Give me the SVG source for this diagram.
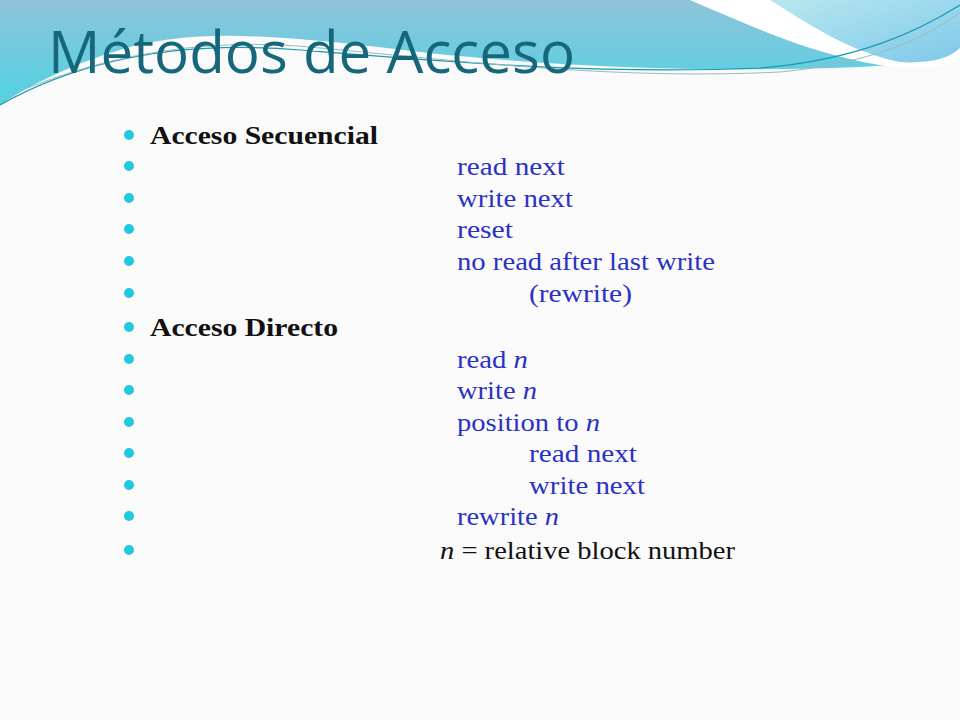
<svg xmlns="http://www.w3.org/2000/svg" width="960" height="720" viewBox="0 0 960 720">
<defs>
<linearGradient id="gl" x1="0" y1="0" x2="0" y2="1"><stop offset="0" stop-color="#8fc3da"/><stop offset="1" stop-color="#4fd3e3"/></linearGradient>
<linearGradient id="gr" x1="0" y1="0" x2="1" y2="1"><stop offset="0" stop-color="#b8e8ee"/><stop offset="1" stop-color="#7fc8ea"/></linearGradient>
<style>
.b{fill:#22c8dc}
.t{font-family:"Liberation Serif","DejaVu Serif",serif;font-size:25px}
.t text{lengthAdjust:spacingAndGlyphs}
.h{font-weight:bold;fill:#111}
.i{fill:#2a32c4}
</style>
</defs>
<rect width="960" height="720" fill="#fafafa"/>
<path d="M0,0 H960 V60 C800,75 600,72 420,52 C300,38 200,25 120,50 C70,65 30,85 0,105 Z" fill="url(#gl)"/>
<path d="M690,0 C760,30 820,58 900,68 C930,70 950,66 960,60 V0 Z" fill="#fff"/>
<path d="M770,0 C810,25 850,52 900,62 C930,64 950,58 960,48 V0 Z" fill="url(#gr)"/>
<path d="M0,105 C80,60 180,40 300,50 C450,62 600,75 760,68 C860,60 920,30 960,5" fill="none" stroke="#1a9ab0" stroke-width="1.2"/>
<path d="M0,100 C90,58 200,35 320,48 C470,62 620,80 780,72 C880,62 930,35 960,12" fill="none" stroke="#9bb" stroke-width="1"/>
<text x="48" y="73" font-family="Open Sans, 'Liberation Sans', sans-serif" font-size="58" fill="#17677c" textLength="527" lengthAdjust="spacingAndGlyphs">Métodos de Acceso</text>
<g id="bullets">
<circle class="b" cx="129" cy="135" r="5"/><circle class="b" cx="129" cy="166" r="5"/><circle class="b" cx="129" cy="198" r="5"/><circle class="b" cx="129" cy="229" r="5"/><circle class="b" cx="129" cy="261" r="5"/><circle class="b" cx="129" cy="293" r="5"/><circle class="b" cx="129" cy="327" r="5"/><circle class="b" cx="129" cy="359" r="5"/><circle class="b" cx="129" cy="390" r="5"/><circle class="b" cx="129" cy="422" r="5"/><circle class="b" cx="129" cy="453" r="5"/><circle class="b" cx="129" cy="485" r="5"/><circle class="b" cx="129" cy="516" r="5"/><circle class="b" cx="129" cy="550" r="5"/>
</g>
<g id="text" class="t">
<text class="h" x="150" y="144" textLength="228" lengthAdjust="spacingAndGlyphs">Acceso Secuencial</text>
<text class="i" x="457" y="175" textLength="108" lengthAdjust="spacingAndGlyphs">read next</text>
<text class="i" x="457" y="207" textLength="116" lengthAdjust="spacingAndGlyphs">write next</text>
<text class="i" x="457" y="238" textLength="56" lengthAdjust="spacingAndGlyphs">reset</text>
<text class="i" x="457" y="270" textLength="258" lengthAdjust="spacingAndGlyphs">no read after last write</text>
<text class="i" x="529" y="302" textLength="103" lengthAdjust="spacingAndGlyphs">(rewrite)</text>
<text class="h" x="150" y="336" textLength="188" lengthAdjust="spacingAndGlyphs">Acceso Directo</text>
<text class="i" x="457" y="368" textLength="71" lengthAdjust="spacingAndGlyphs">read <tspan font-style="italic">n</tspan></text>
<text class="i" x="457" y="399" textLength="80" lengthAdjust="spacingAndGlyphs">write <tspan font-style="italic">n</tspan></text>
<text class="i" x="457" y="431" textLength="143" lengthAdjust="spacingAndGlyphs">position to <tspan font-style="italic">n</tspan></text>
<text class="i" x="529" y="462" textLength="108" lengthAdjust="spacingAndGlyphs">read next</text>
<text class="i" x="529" y="494" textLength="116" lengthAdjust="spacingAndGlyphs">write next</text>
<text class="i" x="457" y="525" textLength="102" lengthAdjust="spacingAndGlyphs">rewrite <tspan font-style="italic">n</tspan></text>
<text x="440" y="559" fill="#111" textLength="295" lengthAdjust="spacingAndGlyphs"><tspan font-style="italic">n</tspan> = relative block number</text>
</g>
</svg>
